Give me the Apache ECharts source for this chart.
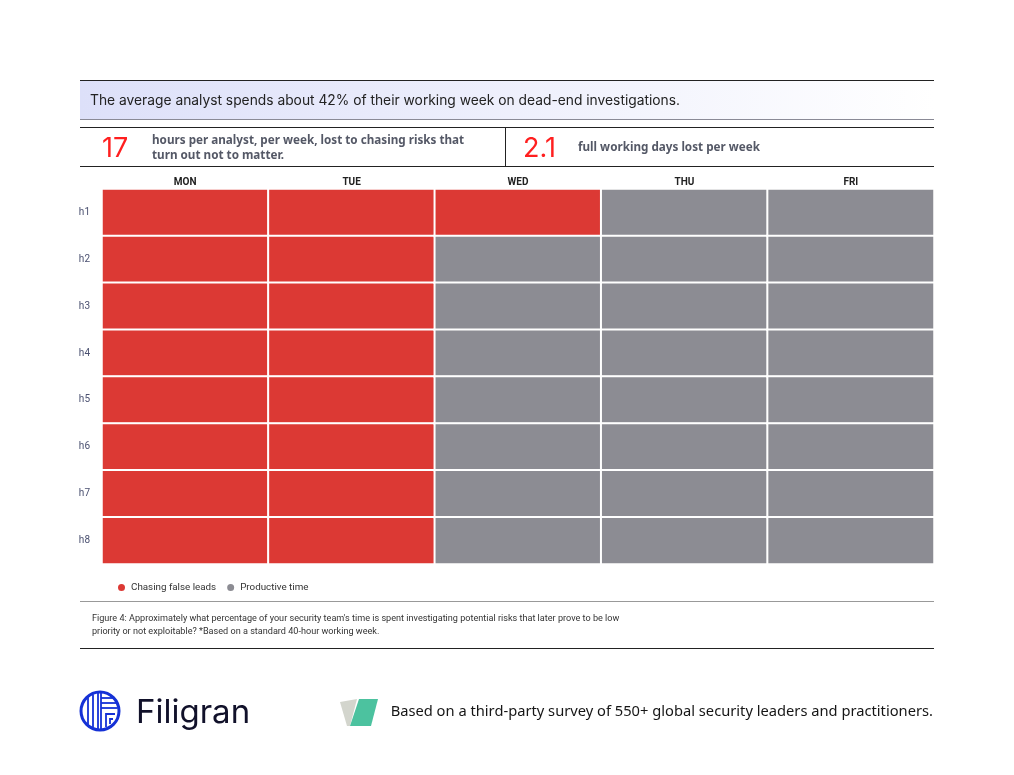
<!DOCTYPE html>
<html>
<head>
<meta charset="utf-8">
<title>Analyst week</title>
<script src="https://cdn.jsdelivr.net/npm/echarts@6/dist/echarts.min.js"></script>
<style>
  html, body { margin: 0; padding: 0; background: #fff; }
  #chart { width: 1014px; height: 775px; }
</style>
</head>
<body>
<div id="chart"></div>
<script>
// data
var days = ['MON', 'TUE', 'WED', 'THU', 'FRI'];
var hours = ['h1', 'h2', 'h3', 'h4', 'h5', 'h6', 'h7', 'h8'];
var hoursLostPerDay = [8, 8, 1, 0, 0];   // 17 hours in total
var seriesNames = ['Chasing false leads', 'Productive time'];

var RED = '#dc3934';
var GREY = '#8c8c93';
var FONT = 'Inter, "Noto Sans", sans-serif';
var SMALL = 'Roboto, "Noto Sans", sans-serif';

// build cells from the data
var lostCells = [], productiveCells = [];
for (var d = 0; d < days.length; d++) {
    for (var h = 0; h < hours.length; h++) {
        if (h < hoursLostPerDay[d]) {
            lostCells.push([d, h, 1]);
        } else {
            productiveCells.push([d, h, 0]);
        }
    }
}

// logo stripes (decoration)
function logoShapes(cx, cy, r) {
    var out = [];
    var blue = '#1531d6';
    out.push({ type: 'circle', shape: { cx: cx, cy: cy, r: r }, style: { fill: 'none', stroke: blue, lineWidth: 3 } });
    [-12, -7, -2, 1].forEach(function (dx) {
        var dy = Math.sqrt(r * r - dx * dx) - 1;
        out.push({ type: 'line', shape: { x1: cx + dx, y1: cy - dy, x2: cx + dx, y2: cy + dy }, style: { stroke: blue, lineWidth: 1.8 } });
    });
    [-13, -8, -3].forEach(function (dy) {
        var dx = Math.sqrt(r * r - dy * dy) - 1;
        out.push({ type: 'line', shape: { x1: cx + 1, y1: cy + dy, x2: cx + dx, y2: cy + dy }, style: { stroke: blue, lineWidth: 1.8 } });
    });
    out.push({ type: 'polyline', shape: { points: [[cx + 6, cy + 16], [cx + 6, cy + 3], [cx + 15, cy + 3]] }, style: { fill: 'none', stroke: blue, lineWidth: 1.8 } });
    out.push({ type: 'polyline', shape: { points: [[cx + 10, cy + 13], [cx + 10, cy + 8], [cx + 13, cy + 8]] }, style: { fill: 'none', stroke: blue, lineWidth: 1.8 } });
    return out;
}

var chart = echarts.init(document.getElementById('chart'));

var graphics = [
    // header band
    { type: 'rect', shape: { x: 80, y: 81, width: 854, height: 38 },
      style: { fill: new echarts.graphic.LinearGradient(0, 0, 1, 0, [
          { offset: 0, color: '#dde0f9' }, { offset: 1, color: '#ffffff' }]) } },
    { type: 'line', shape: { x1: 80, y1: 80.5, x2: 934, y2: 80.5 }, style: { stroke: '#222', lineWidth: 1 } },
    { type: 'line', shape: { x1: 80, y1: 119.5, x2: 934, y2: 119.5 }, style: { stroke: '#8a8a96', lineWidth: 1 } },
    { type: 'text', left: 90, top: 94, style: { text: 'The average analyst spends about 42% of their working week on dead-end investigations.',
      fontSize: 13.8, fontFamily: FONT, fill: '#222' } },

    // stats row
    { type: 'line', shape: { x1: 80, y1: 127.5, x2: 934, y2: 127.5 }, style: { stroke: '#222', lineWidth: 1 } },
    { type: 'line', shape: { x1: 80, y1: 166.5, x2: 934, y2: 166.5 }, style: { stroke: '#222', lineWidth: 1 } },
    { type: 'line', shape: { x1: 505.5, y1: 127, x2: 505.5, y2: 166 }, style: { stroke: '#222', lineWidth: 1 } },
    { type: 'text', left: 102, top: 135, style: { text: '17', fontSize: 27, fontFamily: FONT, fill: '#ff1f1f' } },
    { type: 'text', left: 152, top: 133, style: { text: 'hours per analyst, per week, lost to chasing risks that\nturn out not to matter.',
      fontSize: 11.7, lineHeight: 15, fontWeight: 'bold', fontFamily: '"Noto Sans", sans-serif', fill: '#545866' } },
    { type: 'text', left: 523, top: 135, style: { text: '2.1', fontSize: 27, fontFamily: FONT, fill: '#ff1f1f' } },
    { type: 'text', left: 578, top: 142, style: { text: 'full working days lost per week',
      fontSize: 11.7, fontWeight: 'bold', fontFamily: '"Noto Sans", sans-serif', fill: '#545866' } },

    // caption
    { type: 'line', shape: { x1: 80, y1: 601.5, x2: 934, y2: 601.5 }, style: { stroke: '#999', lineWidth: 1 } },
    { type: 'text', left: 92, top: 612, style: { text: 'Figure 4: Approximately what percentage of your security team\'s time is spent investigating potential risks that later prove to be low\npriority or not exploitable? *Based on a standard 40-hour working week.',
      fontSize: 9.1, lineHeight: 13, fontFamily: SMALL, fill: '#333' } },
    { type: 'line', shape: { x1: 80, y1: 648.5, x2: 934, y2: 648.5 }, style: { stroke: '#222', lineWidth: 1 } },

    // footer
    { type: 'text', left: 136, top: 697, style: { text: 'Filigran', fontSize: 33, fontFamily: FONT, fill: '#11112a' } },
    { type: 'polygon', shape: { points: [[340, 702], [357, 699], [350, 726], [347, 726]] }, style: { fill: '#d3d5cd' } },
    { type: 'polygon', shape: { points: [[359, 699], [378, 699], [371, 726], [350, 726]] }, style: { fill: '#4cc29f' } },
    { type: 'text', right: 81, top: 704, style: { text: 'Based on a third-party survey of 550+ global security leaders and practitioners.',
      fontSize: 14.7, fontFamily: '"Noto Sans", sans-serif', fill: '#161616' } }
].concat(logoShapes(100, 711, 19));

var option = {
    backgroundColor: '#fff',
    animation: false,
    grid: { left: 102, right: 80, top: 189, bottom: 211 },
    xAxis: {
        type: 'category',
        position: 'top',
        data: days,
        axisLine: { show: false },
        axisTick: { show: false },
        splitArea: { show: false },
        axisLabel: { margin: 2, fontSize: 10, fontWeight: 'bold', color: '#222', fontFamily: SMALL }
    },
    yAxis: {
        type: 'category',
        inverse: true,
        data: hours,
        axisLine: { show: false },
        axisTick: { show: false },
        splitArea: { show: false },
        axisLabel: { margin: 12, fontSize: 10, color: '#4a5070', fontFamily: SMALL }
    },
    legend: {
        left: 111,
        top: 577,
        icon: 'circle',
        itemWidth: 9,
        itemHeight: 9,
        itemGap: 9,
        data: seriesNames,
        textStyle: { fontSize: 9.8, color: '#333', fontFamily: SMALL }
    },
    series: [
        {
            name: seriesNames[0],
            type: 'heatmap',
            data: lostCells,
            itemStyle: { color: RED, borderColor: '#fff', borderWidth: 2 }
        },
        {
            name: seriesNames[1],
            type: 'heatmap',
            data: productiveCells,
            itemStyle: { color: GREY, borderColor: '#fff', borderWidth: 2 }
        }
    ],
    graphic: graphics
};

chart.setOption(option);
</script>
</body>
</html>
